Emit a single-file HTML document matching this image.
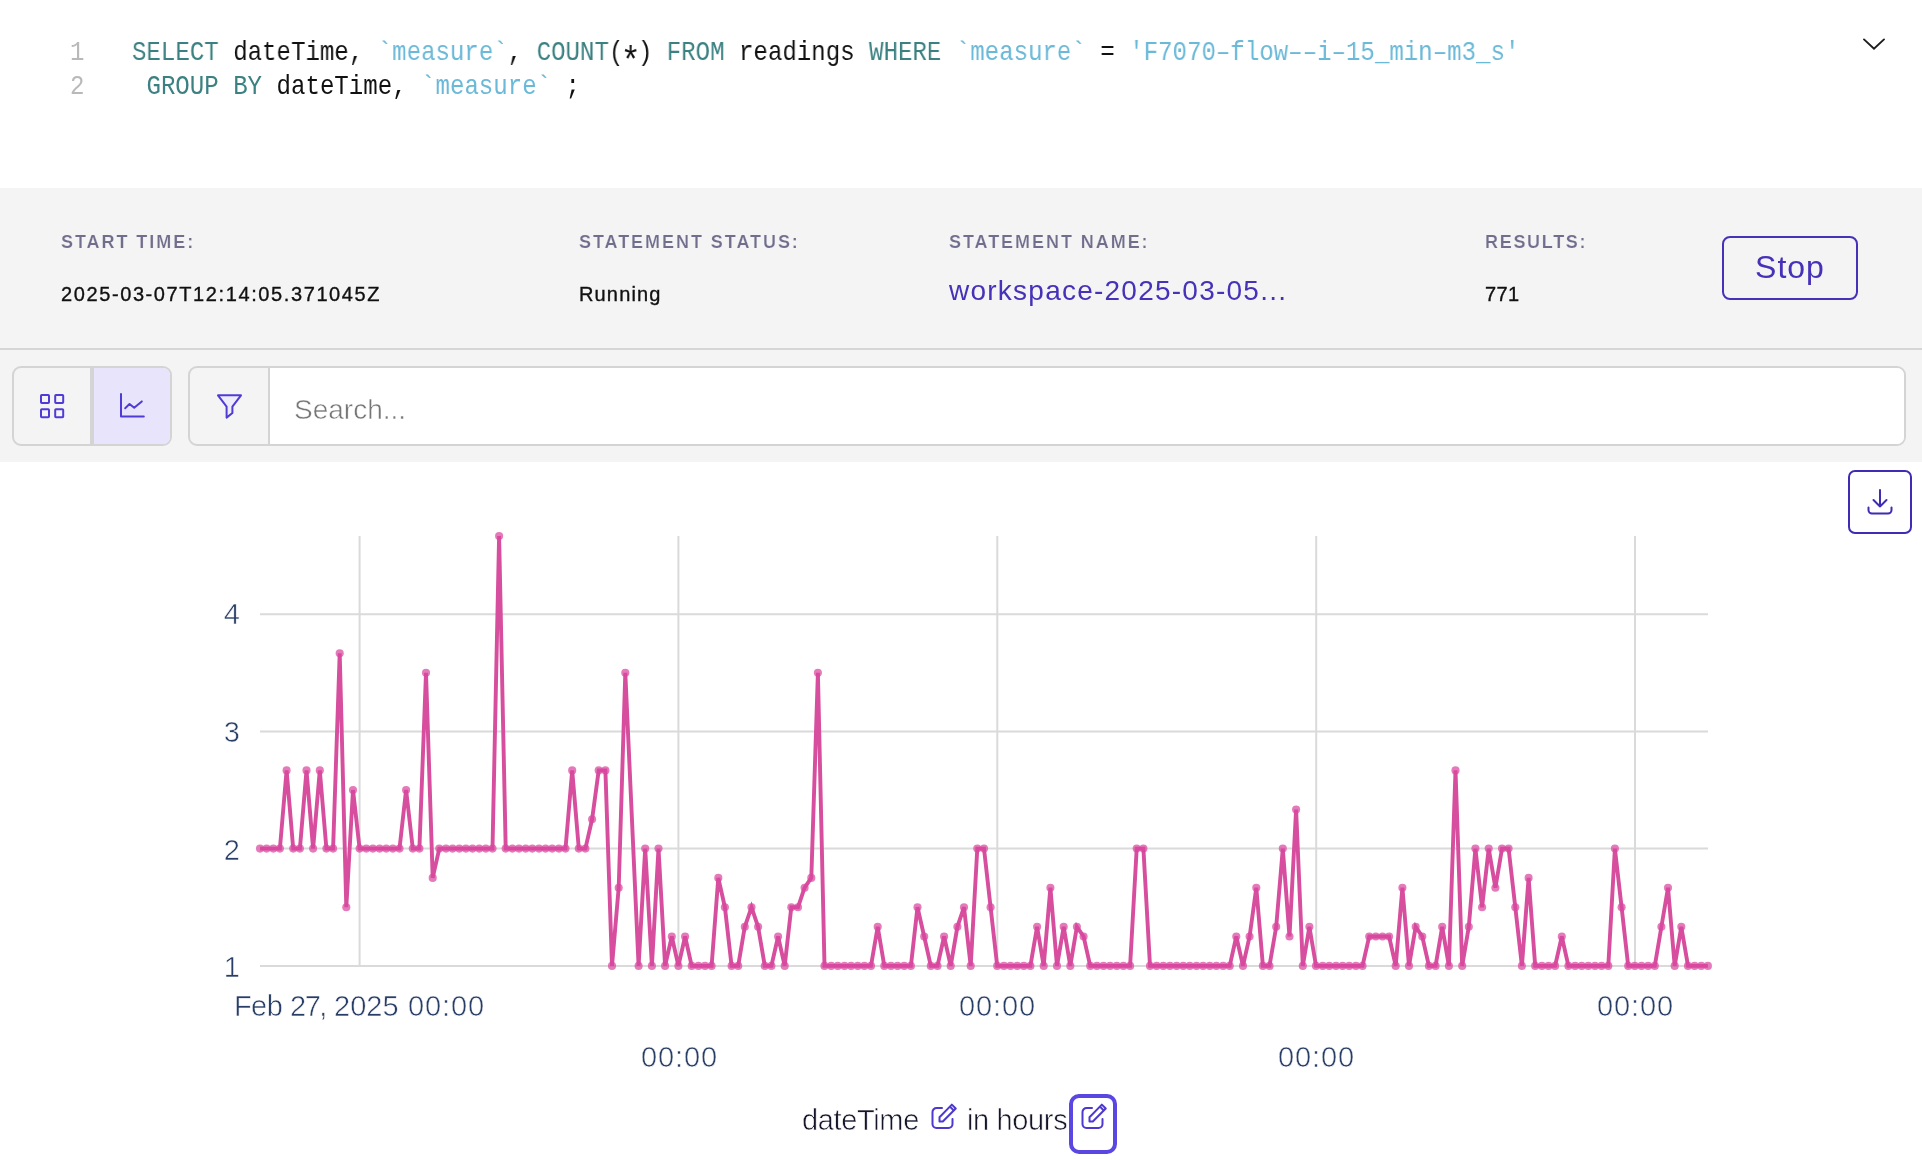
<!DOCTYPE html>
<html>
<head>
<meta charset="utf-8">
<title>Statement results</title>
<style>
*{box-sizing:border-box;margin:0;padding:0}
html,body{width:1922px;height:1160px;overflow:hidden;background:#fff}
body{position:relative;will-change:transform;font-family:"Liberation Sans",sans-serif;color:#111}
.abs{position:absolute;white-space:nowrap}

/* code editor */
.code{font-family:"Liberation Mono",monospace;font-size:27.6px;line-height:34px;color:#111;transform:scaleX(0.8727);transform-origin:0 0}
.ln{color:#b9b9b9}
.kw{color:#3b8182}
.id{color:#6bb9d8}

/* info band */
.band{left:0;top:188px;width:1922px;height:274px;background:#f4f4f4}
.hr{left:0;top:348px;width:1922px;height:2px;background:#d6d6d6}
.lbl{font-size:18px;font-weight:bold;letter-spacing:1.95px;color:#716d8d;line-height:20px;-webkit-text-stroke:0.2px #f4f4f4}
.val{font-size:20px;letter-spacing:1.6px;color:#111;line-height:24px;-webkit-text-stroke:0.35px #111}
.link{font-size:28px;color:#4632b8;line-height:32px;letter-spacing:1.24px}
.stop{left:1722px;top:236px;width:136px;height:64px;border:2px solid #4632b8;border-radius:7px;
  font-size:32px;letter-spacing:1px;color:#4632b8;text-align:center;line-height:58px;border-radius:8px}

/* toolbar */
.grp{left:12px;top:366px;width:160px;height:80px;border:2px solid #d4d4d4;border-radius:9px;background:#f4f4f4;overflow:hidden}
.grp .sel{position:absolute;left:80px;top:0;width:78px;height:76px;background:#e8e4fb}
.grp .div{position:absolute;left:76px;top:0;width:4px;height:76px;background:#d4d4d4}
.srch{left:188px;top:366px;width:1718px;height:80px;border:2px solid #d4d4d4;border-radius:9px;background:#f4f4f4;overflow:hidden}
.srch .inp{position:absolute;left:78px;top:0;width:1640px;height:76px;background:#fff;border-left:2px solid #d4d4d4}
.ph{font-size:28px;color:#767676;line-height:30px;letter-spacing:0;-webkit-text-stroke:0.5px #fff}

/* chart */
.chart{position:absolute;left:0;top:460px}
.tick{font-size:29px;color:#283e66;line-height:30px;-webkit-text-stroke:0.55px #fff}
.dl{left:1848px;top:470px;width:64px;height:64px;border:2px solid #3e2cb4;border-radius:7px;background:#fff}
.axl{font-size:29px;color:#15152a;line-height:32px;letter-spacing:-0.36px;-webkit-text-stroke:0.6px #fff}
.focus{left:1069px;top:1094px;width:48px;height:60px;border:4px solid #5a46e0;border-radius:10px}
svg{display:block}
</style>
</head>
<body>

<!-- code editor -->
<div class="abs code ln" style="left:70px;top:36px">1</div>
<div class="abs code ln" style="left:70px;top:69.8px">2</div>
<div class="abs code" style="left:131.5px;top:36px"><span class="kw">SELECT</span> dateTime, <span class="id">`measure`</span>, <span class="kw">COUNT</span>(<span style="position:relative;top:12.5px;font-size:38px;line-height:0;margin:0 -3.12px">*</span>) <span class="kw">FROM</span> readings <span class="kw">WHERE</span> <span class="id">`measure`</span> = <span class="id">'F7070&#8211;flow&#8211;&#8211;i&#8211;15_min&#8211;m3_s'</span></div>
<div class="abs code" style="left:131.5px;top:69.8px">&nbsp;<span class="kw">GROUP BY</span> dateTime, <span class="id">`measure`</span> ;</div>
<svg class="abs" style="left:1860px;top:35px" width="28" height="18" viewBox="0 0 28 18"><path d="M4 4.4 L14 13.8 L24 4.4" fill="none" stroke="#1c1c1c" stroke-width="1.9" stroke-linecap="round" stroke-linejoin="miter"/></svg>

<!-- info band -->
<div class="abs band"></div>
<div class="abs hr"></div>
<div class="abs lbl" style="left:61px;top:232px">START TIME:</div>
<div class="abs val" style="left:61px;top:282px">2025-03-07T12:14:05.371045Z</div>
<div class="abs lbl" style="left:579px;top:232px">STATEMENT STATUS:</div>
<div class="abs val" style="left:579px;top:282px;letter-spacing:1.15px">Running</div>
<div class="abs lbl" style="left:949px;top:232px">STATEMENT NAME:</div>
<div class="abs link" style="left:949px;top:275px">workspace-2025-03-05...</div>
<div class="abs lbl" style="left:1485px;top:232px;letter-spacing:1.7px">RESULTS:</div>
<div class="abs val" style="left:1485px;top:282px;letter-spacing:0.4px">771</div>
<div class="abs stop">Stop</div>

<!-- toolbar -->
<div class="abs grp">
  <div class="sel"></div><div class="div"></div>
  <svg style="position:absolute;left:24px;top:24px" width="30" height="30" viewBox="0 0 30 30" fill="none" stroke="#4f3bd6" stroke-width="2" stroke-linejoin="round">
    <rect x="3" y="3" width="8" height="8" rx="0.8"/><rect x="17.2" y="3" width="8" height="8" rx="0.8"/>
    <rect x="3" y="17.2" width="8" height="8" rx="0.8"/><rect x="17.2" y="17.2" width="8" height="8" rx="0.8"/>
  </svg>
  <svg style="position:absolute;left:104px;top:24px" width="30" height="30" viewBox="0 0 30 30" fill="none" stroke="#4f3bd6" stroke-width="2" stroke-linecap="round" stroke-linejoin="round">
    <path d="M3 2 V24.6 H25.8"/><path d="M7.2 16.2 L11.5 12 L16.2 15.8 L23.8 9.4"/>
  </svg>
</div>
<div class="abs srch">
  <div class="inp"></div>
  <svg style="position:absolute;left:24px;top:24px" width="32" height="30" viewBox="0 0 32 30" fill="none" stroke="#4f3bd6" stroke-width="2" stroke-linejoin="round">
    <path d="M4 3.3 H27 L18.4 14.6 V21 L12.6 25.6 V14.6 Z" fill="#eeecfa"/>
  </svg>
  <div class="abs ph" style="left:104px;top:27px">Search...</div>
</div>

<!-- chart -->
<svg class="chart" width="1922" height="700" viewBox="0 460 1922 700">
<g stroke="#dadada" stroke-width="2" fill="none"><line x1="359.6" y1="536" x2="359.6" y2="965.9"/><line x1="678.4" y1="536" x2="678.4" y2="965.9"/><line x1="997.3" y1="536" x2="997.3" y2="965.9"/><line x1="1316.2" y1="536" x2="1316.2" y2="965.9"/><line x1="1635.0" y1="536" x2="1635.0" y2="965.9"/><line x1="260" y1="965.9" x2="1708" y2="965.9"/><line x1="260" y1="848.6" x2="1708" y2="848.6"/><line x1="260" y1="731.4" x2="1708" y2="731.4"/><line x1="260" y1="614.2" x2="1708" y2="614.2"/></g>
<polyline points="260.0,848.6 266.6,848.6 273.3,848.6 279.9,848.6 286.6,770.4 293.2,848.6 299.9,848.6 306.5,770.4 313.1,848.6 319.8,770.4 326.4,848.6 333.1,848.6 339.7,653.2 346.3,907.2 353.0,790.0 359.6,848.6 366.3,848.6 372.9,848.6 379.6,848.6 386.2,848.6 392.8,848.6 399.5,848.6 406.1,790.0 412.8,848.6 419.4,848.6 426.0,672.8 432.7,877.9 439.3,848.6 446.0,848.6 452.6,848.6 459.3,848.6 465.9,848.6 472.5,848.6 479.2,848.6 485.8,848.6 492.5,848.6 499.1,536.0 505.7,848.6 512.4,848.6 519.0,848.6 525.7,848.6 532.3,848.6 539.0,848.6 545.6,848.6 552.2,848.6 558.9,848.6 565.5,848.6 572.2,770.4 578.8,848.6 585.4,848.6 592.1,819.3 598.7,770.4 605.4,770.4 612.0,965.9 618.7,887.7 625.3,672.8 638.6,965.9 645.2,848.6 651.9,965.9 658.5,848.6 665.1,965.9 671.8,936.5 678.4,965.9 685.1,936.5 691.7,965.9 698.4,965.9 705.0,965.9 711.6,965.9 718.3,877.9 724.9,907.2 731.6,965.9 738.2,965.9 744.8,926.8 751.5,907.2 758.1,926.8 764.8,965.9 771.4,965.9 778.1,936.5 784.7,965.9 791.3,907.2 798.0,907.2 804.6,887.7 811.3,877.9 817.9,672.8 824.5,965.9 831.2,965.9 837.8,965.9 844.5,965.9 851.1,965.9 857.8,965.9 864.4,965.9 871.0,965.9 877.7,926.8 884.3,965.9 891.0,965.9 897.6,965.9 904.2,965.9 910.9,965.9 917.5,907.2 924.2,936.5 930.8,965.9 937.5,965.9 944.1,936.5 950.7,965.9 957.4,926.8 964.0,907.2 970.7,965.9 977.3,848.6 984.0,848.6 990.6,907.2 997.2,965.9 1003.9,965.9 1010.5,965.9 1017.2,965.9 1023.8,965.9 1030.4,965.9 1037.1,926.8 1043.7,965.9 1050.4,887.7 1057.0,965.9 1063.7,926.8 1070.3,965.9 1076.9,926.8 1083.6,936.5 1090.2,965.9 1096.9,965.9 1103.5,965.9 1110.1,965.9 1116.8,965.9 1123.4,965.9 1130.1,965.9 1136.7,848.6 1143.4,848.6 1150.0,965.9 1156.6,965.9 1163.3,965.9 1169.9,965.9 1176.6,965.9 1183.2,965.9 1189.8,965.9 1196.5,965.9 1203.1,965.9 1209.8,965.9 1216.4,965.9 1223.1,965.9 1229.7,965.9 1236.3,936.5 1243.0,965.9 1249.6,936.5 1256.3,887.7 1262.9,965.9 1269.5,965.9 1276.2,926.8 1282.8,848.6 1289.5,936.5 1296.1,809.6 1302.8,965.9 1309.4,926.8 1316.0,965.9 1322.7,965.9 1329.3,965.9 1336.0,965.9 1342.6,965.9 1349.2,965.9 1355.9,965.9 1362.5,965.9 1369.2,936.5 1375.8,936.5 1382.5,936.5 1389.1,936.5 1395.7,965.9 1402.4,887.7 1409.0,965.9 1415.7,926.8 1422.3,936.5 1428.9,965.9 1435.6,965.9 1442.2,926.8 1448.9,965.9 1455.5,770.4 1462.2,965.9 1468.8,926.8 1475.4,848.6 1482.1,907.2 1488.7,848.6 1495.4,887.7 1502.0,848.6 1508.6,848.6 1515.3,907.2 1521.9,965.9 1528.6,877.9 1535.2,965.9 1541.9,965.9 1548.5,965.9 1555.1,965.9 1561.8,936.5 1568.4,965.9 1575.1,965.9 1581.7,965.9 1588.3,965.9 1595.0,965.9 1601.6,965.9 1608.3,965.9 1614.9,848.6 1621.6,907.2 1628.2,965.9 1634.8,965.9 1641.5,965.9 1648.1,965.9 1654.8,965.9 1661.4,926.8 1668.0,887.7 1674.7,965.9 1681.3,926.8 1688.0,965.9 1694.6,965.9 1701.3,965.9 1707.9,965.9" fill="none" stroke="#d64e9d" stroke-width="3.9" stroke-linejoin="miter" stroke-linecap="butt"/>
<g fill="#d9479f" fill-opacity="0.72"><circle cx="260.0" cy="848.6" r="4.05"/><circle cx="266.6" cy="848.6" r="4.05"/><circle cx="273.3" cy="848.6" r="4.05"/><circle cx="279.9" cy="848.6" r="4.05"/><circle cx="286.6" cy="770.4" r="4.05"/><circle cx="293.2" cy="848.6" r="4.05"/><circle cx="299.9" cy="848.6" r="4.05"/><circle cx="306.5" cy="770.4" r="4.05"/><circle cx="313.1" cy="848.6" r="4.05"/><circle cx="319.8" cy="770.4" r="4.05"/><circle cx="326.4" cy="848.6" r="4.05"/><circle cx="333.1" cy="848.6" r="4.05"/><circle cx="339.7" cy="653.2" r="4.05"/><circle cx="346.3" cy="907.2" r="4.05"/><circle cx="353.0" cy="790.0" r="4.05"/><circle cx="359.6" cy="848.6" r="4.05"/><circle cx="366.3" cy="848.6" r="4.05"/><circle cx="372.9" cy="848.6" r="4.05"/><circle cx="379.6" cy="848.6" r="4.05"/><circle cx="386.2" cy="848.6" r="4.05"/><circle cx="392.8" cy="848.6" r="4.05"/><circle cx="399.5" cy="848.6" r="4.05"/><circle cx="406.1" cy="790.0" r="4.05"/><circle cx="412.8" cy="848.6" r="4.05"/><circle cx="419.4" cy="848.6" r="4.05"/><circle cx="426.0" cy="672.8" r="4.05"/><circle cx="432.7" cy="877.9" r="4.05"/><circle cx="439.3" cy="848.6" r="4.05"/><circle cx="446.0" cy="848.6" r="4.05"/><circle cx="452.6" cy="848.6" r="4.05"/><circle cx="459.3" cy="848.6" r="4.05"/><circle cx="465.9" cy="848.6" r="4.05"/><circle cx="472.5" cy="848.6" r="4.05"/><circle cx="479.2" cy="848.6" r="4.05"/><circle cx="485.8" cy="848.6" r="4.05"/><circle cx="492.5" cy="848.6" r="4.05"/><circle cx="499.1" cy="536.0" r="4.05"/><circle cx="505.7" cy="848.6" r="4.05"/><circle cx="512.4" cy="848.6" r="4.05"/><circle cx="519.0" cy="848.6" r="4.05"/><circle cx="525.7" cy="848.6" r="4.05"/><circle cx="532.3" cy="848.6" r="4.05"/><circle cx="539.0" cy="848.6" r="4.05"/><circle cx="545.6" cy="848.6" r="4.05"/><circle cx="552.2" cy="848.6" r="4.05"/><circle cx="558.9" cy="848.6" r="4.05"/><circle cx="565.5" cy="848.6" r="4.05"/><circle cx="572.2" cy="770.4" r="4.05"/><circle cx="578.8" cy="848.6" r="4.05"/><circle cx="585.4" cy="848.6" r="4.05"/><circle cx="592.1" cy="819.3" r="4.05"/><circle cx="598.7" cy="770.4" r="4.05"/><circle cx="605.4" cy="770.4" r="4.05"/><circle cx="612.0" cy="965.9" r="4.05"/><circle cx="618.7" cy="887.7" r="4.05"/><circle cx="625.3" cy="672.8" r="4.05"/><circle cx="638.6" cy="965.9" r="4.05"/><circle cx="645.2" cy="848.6" r="4.05"/><circle cx="651.9" cy="965.9" r="4.05"/><circle cx="658.5" cy="848.6" r="4.05"/><circle cx="665.1" cy="965.9" r="4.05"/><circle cx="671.8" cy="936.5" r="4.05"/><circle cx="678.4" cy="965.9" r="4.05"/><circle cx="685.1" cy="936.5" r="4.05"/><circle cx="691.7" cy="965.9" r="4.05"/><circle cx="698.4" cy="965.9" r="4.05"/><circle cx="705.0" cy="965.9" r="4.05"/><circle cx="711.6" cy="965.9" r="4.05"/><circle cx="718.3" cy="877.9" r="4.05"/><circle cx="724.9" cy="907.2" r="4.05"/><circle cx="731.6" cy="965.9" r="4.05"/><circle cx="738.2" cy="965.9" r="4.05"/><circle cx="744.8" cy="926.8" r="4.05"/><circle cx="751.5" cy="907.2" r="4.05"/><circle cx="758.1" cy="926.8" r="4.05"/><circle cx="764.8" cy="965.9" r="4.05"/><circle cx="771.4" cy="965.9" r="4.05"/><circle cx="778.1" cy="936.5" r="4.05"/><circle cx="784.7" cy="965.9" r="4.05"/><circle cx="791.3" cy="907.2" r="4.05"/><circle cx="798.0" cy="907.2" r="4.05"/><circle cx="804.6" cy="887.7" r="4.05"/><circle cx="811.3" cy="877.9" r="4.05"/><circle cx="817.9" cy="672.8" r="4.05"/><circle cx="824.5" cy="965.9" r="4.05"/><circle cx="831.2" cy="965.9" r="4.05"/><circle cx="837.8" cy="965.9" r="4.05"/><circle cx="844.5" cy="965.9" r="4.05"/><circle cx="851.1" cy="965.9" r="4.05"/><circle cx="857.8" cy="965.9" r="4.05"/><circle cx="864.4" cy="965.9" r="4.05"/><circle cx="871.0" cy="965.9" r="4.05"/><circle cx="877.7" cy="926.8" r="4.05"/><circle cx="884.3" cy="965.9" r="4.05"/><circle cx="891.0" cy="965.9" r="4.05"/><circle cx="897.6" cy="965.9" r="4.05"/><circle cx="904.2" cy="965.9" r="4.05"/><circle cx="910.9" cy="965.9" r="4.05"/><circle cx="917.5" cy="907.2" r="4.05"/><circle cx="924.2" cy="936.5" r="4.05"/><circle cx="930.8" cy="965.9" r="4.05"/><circle cx="937.5" cy="965.9" r="4.05"/><circle cx="944.1" cy="936.5" r="4.05"/><circle cx="950.7" cy="965.9" r="4.05"/><circle cx="957.4" cy="926.8" r="4.05"/><circle cx="964.0" cy="907.2" r="4.05"/><circle cx="970.7" cy="965.9" r="4.05"/><circle cx="977.3" cy="848.6" r="4.05"/><circle cx="984.0" cy="848.6" r="4.05"/><circle cx="990.6" cy="907.2" r="4.05"/><circle cx="997.2" cy="965.9" r="4.05"/><circle cx="1003.9" cy="965.9" r="4.05"/><circle cx="1010.5" cy="965.9" r="4.05"/><circle cx="1017.2" cy="965.9" r="4.05"/><circle cx="1023.8" cy="965.9" r="4.05"/><circle cx="1030.4" cy="965.9" r="4.05"/><circle cx="1037.1" cy="926.8" r="4.05"/><circle cx="1043.7" cy="965.9" r="4.05"/><circle cx="1050.4" cy="887.7" r="4.05"/><circle cx="1057.0" cy="965.9" r="4.05"/><circle cx="1063.7" cy="926.8" r="4.05"/><circle cx="1070.3" cy="965.9" r="4.05"/><circle cx="1076.9" cy="926.8" r="4.05"/><circle cx="1083.6" cy="936.5" r="4.05"/><circle cx="1090.2" cy="965.9" r="4.05"/><circle cx="1096.9" cy="965.9" r="4.05"/><circle cx="1103.5" cy="965.9" r="4.05"/><circle cx="1110.1" cy="965.9" r="4.05"/><circle cx="1116.8" cy="965.9" r="4.05"/><circle cx="1123.4" cy="965.9" r="4.05"/><circle cx="1130.1" cy="965.9" r="4.05"/><circle cx="1136.7" cy="848.6" r="4.05"/><circle cx="1143.4" cy="848.6" r="4.05"/><circle cx="1150.0" cy="965.9" r="4.05"/><circle cx="1156.6" cy="965.9" r="4.05"/><circle cx="1163.3" cy="965.9" r="4.05"/><circle cx="1169.9" cy="965.9" r="4.05"/><circle cx="1176.6" cy="965.9" r="4.05"/><circle cx="1183.2" cy="965.9" r="4.05"/><circle cx="1189.8" cy="965.9" r="4.05"/><circle cx="1196.5" cy="965.9" r="4.05"/><circle cx="1203.1" cy="965.9" r="4.05"/><circle cx="1209.8" cy="965.9" r="4.05"/><circle cx="1216.4" cy="965.9" r="4.05"/><circle cx="1223.1" cy="965.9" r="4.05"/><circle cx="1229.7" cy="965.9" r="4.05"/><circle cx="1236.3" cy="936.5" r="4.05"/><circle cx="1243.0" cy="965.9" r="4.05"/><circle cx="1249.6" cy="936.5" r="4.05"/><circle cx="1256.3" cy="887.7" r="4.05"/><circle cx="1262.9" cy="965.9" r="4.05"/><circle cx="1269.5" cy="965.9" r="4.05"/><circle cx="1276.2" cy="926.8" r="4.05"/><circle cx="1282.8" cy="848.6" r="4.05"/><circle cx="1289.5" cy="936.5" r="4.05"/><circle cx="1296.1" cy="809.6" r="4.05"/><circle cx="1302.8" cy="965.9" r="4.05"/><circle cx="1309.4" cy="926.8" r="4.05"/><circle cx="1316.0" cy="965.9" r="4.05"/><circle cx="1322.7" cy="965.9" r="4.05"/><circle cx="1329.3" cy="965.9" r="4.05"/><circle cx="1336.0" cy="965.9" r="4.05"/><circle cx="1342.6" cy="965.9" r="4.05"/><circle cx="1349.2" cy="965.9" r="4.05"/><circle cx="1355.9" cy="965.9" r="4.05"/><circle cx="1362.5" cy="965.9" r="4.05"/><circle cx="1369.2" cy="936.5" r="4.05"/><circle cx="1375.8" cy="936.5" r="4.05"/><circle cx="1382.5" cy="936.5" r="4.05"/><circle cx="1389.1" cy="936.5" r="4.05"/><circle cx="1395.7" cy="965.9" r="4.05"/><circle cx="1402.4" cy="887.7" r="4.05"/><circle cx="1409.0" cy="965.9" r="4.05"/><circle cx="1415.7" cy="926.8" r="4.05"/><circle cx="1422.3" cy="936.5" r="4.05"/><circle cx="1428.9" cy="965.9" r="4.05"/><circle cx="1435.6" cy="965.9" r="4.05"/><circle cx="1442.2" cy="926.8" r="4.05"/><circle cx="1448.9" cy="965.9" r="4.05"/><circle cx="1455.5" cy="770.4" r="4.05"/><circle cx="1462.2" cy="965.9" r="4.05"/><circle cx="1468.8" cy="926.8" r="4.05"/><circle cx="1475.4" cy="848.6" r="4.05"/><circle cx="1482.1" cy="907.2" r="4.05"/><circle cx="1488.7" cy="848.6" r="4.05"/><circle cx="1495.4" cy="887.7" r="4.05"/><circle cx="1502.0" cy="848.6" r="4.05"/><circle cx="1508.6" cy="848.6" r="4.05"/><circle cx="1515.3" cy="907.2" r="4.05"/><circle cx="1521.9" cy="965.9" r="4.05"/><circle cx="1528.6" cy="877.9" r="4.05"/><circle cx="1535.2" cy="965.9" r="4.05"/><circle cx="1541.9" cy="965.9" r="4.05"/><circle cx="1548.5" cy="965.9" r="4.05"/><circle cx="1555.1" cy="965.9" r="4.05"/><circle cx="1561.8" cy="936.5" r="4.05"/><circle cx="1568.4" cy="965.9" r="4.05"/><circle cx="1575.1" cy="965.9" r="4.05"/><circle cx="1581.7" cy="965.9" r="4.05"/><circle cx="1588.3" cy="965.9" r="4.05"/><circle cx="1595.0" cy="965.9" r="4.05"/><circle cx="1601.6" cy="965.9" r="4.05"/><circle cx="1608.3" cy="965.9" r="4.05"/><circle cx="1614.9" cy="848.6" r="4.05"/><circle cx="1621.6" cy="907.2" r="4.05"/><circle cx="1628.2" cy="965.9" r="4.05"/><circle cx="1634.8" cy="965.9" r="4.05"/><circle cx="1641.5" cy="965.9" r="4.05"/><circle cx="1648.1" cy="965.9" r="4.05"/><circle cx="1654.8" cy="965.9" r="4.05"/><circle cx="1661.4" cy="926.8" r="4.05"/><circle cx="1668.0" cy="887.7" r="4.05"/><circle cx="1674.7" cy="965.9" r="4.05"/><circle cx="1681.3" cy="926.8" r="4.05"/><circle cx="1688.0" cy="965.9" r="4.05"/><circle cx="1694.6" cy="965.9" r="4.05"/><circle cx="1701.3" cy="965.9" r="4.05"/><circle cx="1707.9" cy="965.9" r="4.05"/></g>
</svg>
<div class="abs tick" style="left:200px;width:40px;text-align:right;top:599.4px">4</div>
<div class="abs tick" style="left:200px;width:40px;text-align:right;top:717.2px">3</div>
<div class="abs tick" style="left:200px;width:40px;text-align:right;top:835.0px">2</div>
<div class="abs tick" style="left:200px;width:40px;text-align:right;top:951.9px">1</div>
<div class="abs tick" style="left:234px;top:991.3px;letter-spacing:-0.6px">Feb</div><div class="abs tick" style="left:290px;top:991.3px;letter-spacing:-1.5px">27,</div><div class="abs tick" style="left:334px;top:991.3px">2025</div><div class="abs tick" style="left:408px;top:991.3px;letter-spacing:0.9px">00:00</div>
<div class="abs tick" style="left:579px;width:200px;text-align:center;top:1041.5px;letter-spacing:0.9px;text-indent:0.9px">00:00</div>
<div class="abs tick" style="left:897px;width:200px;text-align:center;top:991.3px;letter-spacing:0.9px;text-indent:0.9px">00:00</div>
<div class="abs tick" style="left:1216px;width:200px;text-align:center;top:1041.5px;letter-spacing:0.9px;text-indent:0.9px">00:00</div>
<div class="abs tick" style="left:1535px;width:200px;text-align:center;top:991.3px;letter-spacing:0.9px;text-indent:0.9px">00:00</div>

<div class="abs dl">
  <svg style="position:absolute;left:15px;top:15px" width="30" height="30" viewBox="0 0 30 30" fill="none" stroke="#3e2cb4" stroke-width="2" stroke-linecap="round" stroke-linejoin="round">
    <path d="M15 3 V19.5 M8.5 13 L15 19.5 L21.5 13"/><path d="M3.5 20.5 V23 a3.5 3.5 0 0 0 3.5 3.5 H23 a3.5 3.5 0 0 0 3.5 -3.5 V20.5"/>
  </svg>
</div>

<div class="abs axl" style="left:802px;top:1104px">dateTime</div>
<svg class="abs" style="left:929px;top:1102px" width="30" height="30" viewBox="0 0 30 30" fill="none" stroke="#4c39cf" stroke-width="2" stroke-linecap="round" stroke-linejoin="round">
  <path d="M13 6 H7.5 a4 4 0 0 0 -4 4 V22 a4 4 0 0 0 4 4 H19.5 a4 4 0 0 0 4 -4 V17"/><path d="M22.85 2.65 L26.75 6.55 L13.8 19.5 H10.5 V15.2 Z M20.9 4.6 L24.8 8.5"/>
</svg>
<div class="abs axl" style="left:967px;top:1104px">in hours</div>
<div class="abs focus"></div>
<svg class="abs" style="left:1079px;top:1102px" width="30" height="30" viewBox="0 0 30 30" fill="none" stroke="#4c39cf" stroke-width="2" stroke-linecap="round" stroke-linejoin="round">
  <path d="M13 6 H7.5 a4 4 0 0 0 -4 4 V22 a4 4 0 0 0 4 4 H19.5 a4 4 0 0 0 4 -4 V17"/><path d="M22.85 2.65 L26.75 6.55 L13.8 19.5 H10.5 V15.2 Z M20.9 4.6 L24.8 8.5"/>
</svg>

</body>
</html>
